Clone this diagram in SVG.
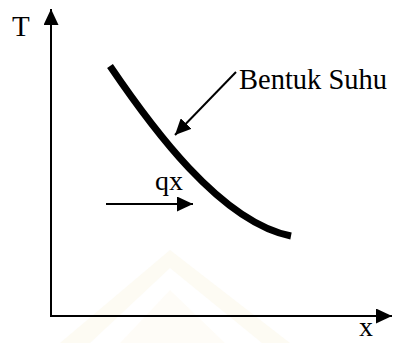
<svg xmlns="http://www.w3.org/2000/svg" width="393" height="343" viewBox="0 0 393 343">
  <style>
    .lbl { font-family: "Liberation Serif", "Times New Roman", serif; fill: #000; }
    .ax { stroke: #000; stroke-width: 2; fill: none; }
    .wm { fill: #fdfbf3; stroke: none; }
  </style>
  <defs>
    <marker id="ah" markerWidth="16" markerHeight="15" refX="16" refY="7.5" orient="auto" markerUnits="userSpaceOnUse">
      <path d="M0,0 L16,7.5 L0,15 Z" fill="#000"/>
    </marker>
  </defs>
  <rect width="393" height="343" fill="#fff"/>
  <g id="watermark">
    <path class="wm" d="M60,343 L170,250 L290,343 L262,343 L170,268 L90,343 Z"/>
    <path class="wm" d="M120,343 L170,290 L225,343 Z" opacity="0.7"/>
  </g>
  <g id="connectors">
    <line id="y-axis" class="ax" x1="51" y1="317" x2="51" y2="9" marker-end="url(#ah)"/>
    <line id="x-axis" class="ax" x1="50" y1="316" x2="392" y2="316" marker-end="url(#ah)"/>
    <line id="pointer" class="ax" x1="236" y1="72" x2="175" y2="135" marker-end="url(#ah)"/>
    <line id="qx-arrow" class="ax" x1="106" y1="204" x2="193" y2="204" marker-end="url(#ah)"/>
  </g>
  <g id="curve">
    <path d="M110,66 C150,125 220,222 291,236" fill="none" stroke="#000" stroke-width="7"/>
  </g>
  <g id="label-T"><text class="lbl" x="12" y="36" font-size="29">T</text></g>
  <g id="label-x"><text class="lbl" x="359" y="336" font-size="28">x</text></g>
  <g id="label-bentuk"><text class="lbl" x="239" y="89" font-size="28.5">Bentuk Suhu</text></g>
  <g id="label-qx"><text class="lbl" x="155" y="190" font-size="28">qx</text></g>
</svg>
